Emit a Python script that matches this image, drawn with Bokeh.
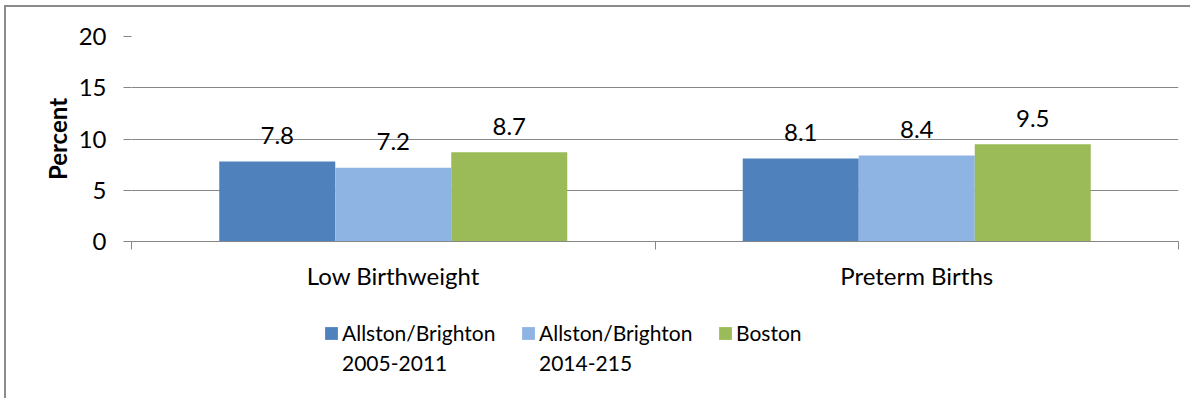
from bokeh.plotting import figure
from bokeh.layouts import column
from bokeh.models import Range1d, FixedTicker, Legend, LegendItem, ColumnDataSource
from bokeh.core.properties import value
from bokeh.embed import file_html
from bokeh.resources import INLINE
import numpy as np

categories = ["Low Birthweight", "Preterm Births"]
series_names = ["Allston/Brighton\n2005-2011", "Allston/Brighton\n2014-215", "Boston"]
ab_2005_2011 = [7.8, 8.1]
ab_2014_215 = [7.2, 8.4]
boston = [8.7, 9.5]
y_ticks = [0, 5, 10, 15, 20]

colors = ["#4F81BD", "#8EB4E3", "#9BBB59"]
FONT = "Lato"
FS = "24px"
LFS = "21px"
BORDER = "2px solid #8c8c8c"

series = [ab_2005_2011, ab_2014_215, boston]
n_cat = len(categories)
bar_w = 0.2216
offsets = [-bar_w, 0.0, bar_w]

p = figure(width=1186, height=293, output_backend="svg", toolbar_location=None,
           x_range=Range1d(0, n_cat), y_range=Range1d(0, 20),
           min_border_left=125, min_border_right=14, min_border_top=29, min_border_bottom=59)
p.styles = {"margin-left": "4px", "margin-top": "5px", "border-left": BORDER, "border-top": BORDER}
p.outline_line_color = None

centers = np.arange(n_cat) + 0.5
sources = []
for vals, off, col in zip(series, offsets, colors):
    src = ColumnDataSource(dict(x=centers + off, top=vals, lbl=[f"{v:.1f}" for v in vals]))
    sources.append(src)
    p.vbar(x="x", top="top", width=bar_w, source=src, fill_color=col, line_color=None)
    p.text(x="x", y="top", text="lbl", source=src, text_align="center", text_baseline="alphabetic",
           y_offset=-26, text_font=value(FONT), text_font_size=FS, text_color="black")

# grid
p.xgrid.grid_line_color = None
p.ygrid.grid_line_color = "#868686"
p.ygrid.ticker = FixedTicker(ticks=y_ticks)

# y axis
p.yaxis.ticker = FixedTicker(ticks=y_ticks)
p.yaxis.axis_line_color = None
p.yaxis.major_tick_line_color = "#868686"
p.yaxis.major_tick_out = 8
p.yaxis.major_tick_in = 0
p.yaxis.minor_tick_line_color = None
p.yaxis.major_label_standoff = 17
p.yaxis.major_label_text_font = FONT
p.yaxis.major_label_text_font_size = FS
p.yaxis.major_label_text_color = "black"
p.yaxis.axis_label = "Percent"
p.yaxis.axis_label_text_font = FONT
p.yaxis.axis_label_text_font_size = FS
p.yaxis.axis_label_text_font_style = "bold"
p.yaxis.axis_label_text_color = "black"
p.yaxis.axis_label_standoff = 4

# x axis
p.xaxis.ticker = FixedTicker(ticks=list(centers), minor_ticks=list(range(n_cat + 1)))
p.xaxis.major_label_overrides = {float(c): cat for c, cat in zip(centers, categories)}
p.xaxis.axis_line_color = "#868686"
p.xaxis.major_tick_line_color = None
p.xaxis.major_tick_out = 0
p.xaxis.major_tick_in = 0
p.xaxis.minor_tick_line_color = "#868686"
p.xaxis.minor_tick_out = 8
p.xaxis.minor_tick_in = 0
p.xaxis.major_label_standoff = 11
p.xaxis.major_label_text_font = FONT
p.xaxis.major_label_text_font_size = FS
p.xaxis.major_label_text_color = "black"

# legend panel (swatches take their colours from hidden copies of the series)
p2 = figure(width=1186, height=100, output_backend="svg", toolbar_location=None,
            x_range=Range1d(0, n_cat), y_range=Range1d(0, 20), min_border=0,
            x_axis_location=None, y_axis_location=None)
p2.styles = {"margin-left": "4px", "border-left": BORDER}
p2.outline_line_color = None
p2.grid.grid_line_color = None

legend_x = [192, 389, 586]
TOP_LINE_Y = 53
SECOND_LINE_Y = 23


def make_legend(items, loc):
    return Legend(items=items, location=loc,
                  glyph_width=16, glyph_height=16, label_standoff=3, spacing=0,
                  padding=0, margin=0, border_line_color=None, background_fill_alpha=0,
                  inactive_fill_alpha=0,
                  label_text_font=FONT, label_text_font_size=LFS, label_text_color="black")


for src, col, name, lx in zip(sources, colors, series_names, legend_x):
    r = p2.vbar(x="x", top="top", width=bar_w, source=src, fill_color=col, line_color=None)
    r.visible = False
    lines = name.split("\n")
    p2.add_layout(make_legend([LegendItem(label=lines[0], renderers=[r])], (lx, TOP_LINE_Y)), "center")
    for k, extra in enumerate(lines[1:], start=1):
        p2.add_layout(make_legend([LegendItem(label=extra, renderers=[])],
                                  (lx, TOP_LINE_Y - k * (TOP_LINE_Y - SECOND_LINE_Y))), "center")

layout = column(p, p2, spacing=0)
open("out.html", "w").write(file_html(layout, INLINE))
